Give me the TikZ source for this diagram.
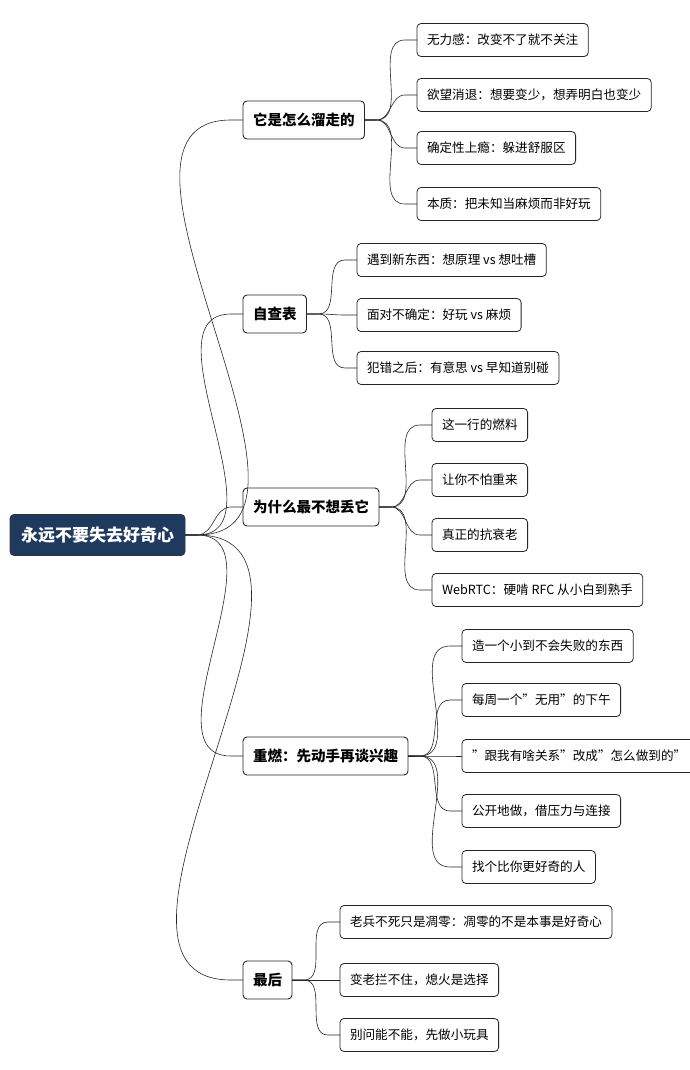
\documentclass[tikz,border=0pt]{standalone}
\usepackage{fontspec}
\setmainfont{Noto Sans CJK SC}
\usetikzlibrary{calc}
\definecolor{rootblue}{HTML}{1F3A5F}
\tikzset{
	x=1pt, y=-1pt,
	every node/.style={anchor=west, inner sep=0, outer sep=0},
	root/.style={draw=black!80, fill=rootblue, text=white, rounded corners=4pt, line width=0.8pt,
		font={\fontsize{17}{20}\selectfont\bfseries}, minimum height=41, inner xsep=11},
	topic/.style={draw=black!85, rounded corners=4pt, line width=0.9pt,
		font={\fontsize{14.5}{17}\selectfont\bfseries}, minimum height=38, inner xsep=10},
	leaf/.style={draw=black!85, rounded corners=4pt, line width=0.8pt,
		font={\fontsize{12.6}{15}\selectfont}, minimum height=33, inner xsep=10},
	link/.style={black!85, line width=0.6pt},
}
\newcommand{\branch}[2]{
	\draw[link] (#1.east) -- ++(12,0) to[out=0,in=180] ($(#2.west)+(-12,0)$) -- (#2.west);
}
\begin{document}
\begin{tikzpicture}
		\useasboundingbox (0,0) rectangle (690,1070);
		\node (root) [root] at (10,535) {永远不要失去好奇心};
		
		\node (slip) [topic] at (243,120) {它是怎么溜走的};
		\node (check) [topic] at (243,314) {自查表};
		\node (why) [topic] at (243,507) {为什么最不想丢它};
		\node (relight) [topic] at (243,756) {重燃：先动手再谈兴趣};
		\node (last) [topic] at (243,980) {最后};
		
		\node (slipa) [leaf] at (417,40) {无力感：改变不了就不关注};
		\node (slipb) [leaf] at (417,95) {欲望消退：想要变少，想弄明白也变少};
		\node (slipc) [leaf] at (417,148) {确定性上瘾：躲进舒服区};
		\node (slipd) [leaf] at (417,204) {本质：把未知当麻烦而非好玩};
		
		\node (checka) [leaf] at (357,260) {遇到新东西：想原理 vs 想吐槽};
		\node (checkb) [leaf] at (357,315) {面对不确定：好玩 vs 麻烦};
		\node (checkc) [leaf] at (357,368) {犯错之后：有意思 vs 早知道别碰};
		
		\node (whya) [leaf] at (432,425) {这一行的燃料};
		\node (whyb) [leaf] at (432,480) {让你不怕重来};
		\node (whyc) [leaf] at (432,535) {真正的抗衰老};
		\node (whyd) [leaf] at (432,590) {WebRTC：硬啃 RFC 从小白到熟手};
		
		\node (relighta) [leaf] at (462,646) {造一个小到不会失败的东西};
		\node (relightb) [leaf] at (462,700) {每周一个"无用"的下午};
		\node (relightc) [leaf] at (462,756) {"跟我有啥关系"改成"怎么做到的"};
		\node (relightd) [leaf] at (462,811) {公开地做，借压力与连接};
		\node (relighte) [leaf] at (462,867) {找个比你更好奇的人};
		
		\node (lasta) [leaf] at (340,922) {老兵不死只是凋零：凋零的不是本事是好奇心};
		\node (lastb) [leaf] at (340,980) {变老拦不住，熄火是选择};
		\node (lastc) [leaf] at (340,1035) {别问能不能，先做小玩具};
		
		\foreach \t in {slip,check,why,relight,last}{\branch{root}{\t}}
		\foreach \l in {a,b,c,d}{\branch{slip}{slip\l}}
		\foreach \l in {a,b,c}{\branch{check}{check\l}}
		\foreach \l in {a,b,c,d}{\branch{why}{why\l}}
		\foreach \l in {a,b,c,d,e}{\branch{relight}{relight\l}}
		\foreach \l in {a,b,c}{\branch{last}{last\l}}
\end{tikzpicture}
\end{document}
